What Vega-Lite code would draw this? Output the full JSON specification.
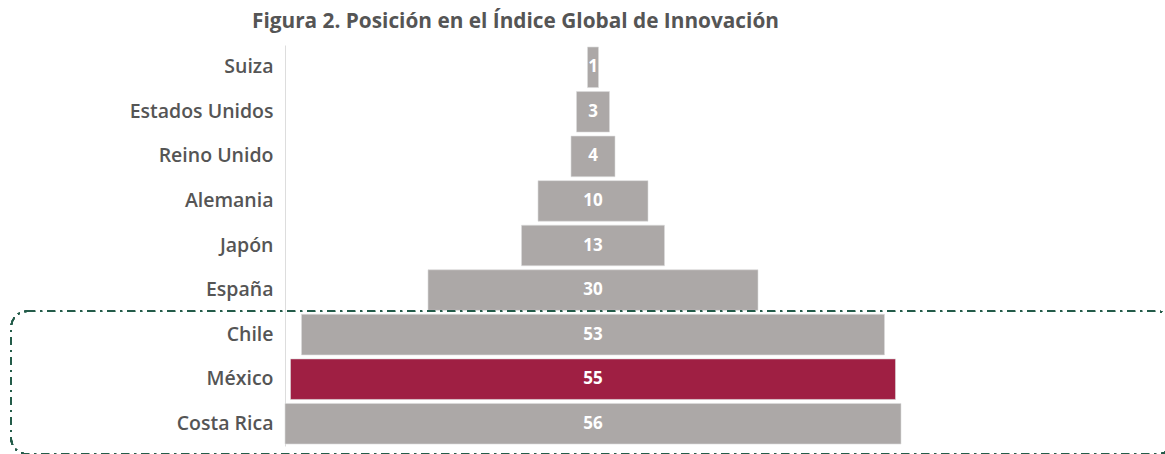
{
  "$schema": "https://vega.github.io/schema/vega-lite/v6.json",
  "width": 616,
  "height": 401,
  "autosize": {"type": "none"},
  "padding": {"left": 285, "top": 45, "right": 264, "bottom": 8},
  "background": "white",
  "config": {"view": {"stroke": null}, "font": "Open Sans"},
  "title": {
    "text": "Figura 2. Posición en el Índice Global de Innovación",
    "anchor": "start",
    "frame": "group",
    "dx": -33,
    "offset": 12,
    "fontSize": 20.8,
    "fontWeight": "bold",
    "color": "#555555",
    "font": "Open Sans"
  },
  "data": {
    "values": [
      {"pais": "Suiza", "posicion": 1, "grupo": "otro"},
      {"pais": "Estados Unidos", "posicion": 3, "grupo": "otro"},
      {"pais": "Reino Unido", "posicion": 4, "grupo": "otro"},
      {"pais": "Alemania", "posicion": 10, "grupo": "otro"},
      {"pais": "Japón", "posicion": 13, "grupo": "otro"},
      {"pais": "España", "posicion": 30, "grupo": "otro"},
      {"pais": "Chile", "posicion": 53, "grupo": "otro"},
      {"pais": "México", "posicion": 55, "grupo": "mexico"},
      {"pais": "Costa Rica", "posicion": 56, "grupo": "otro"}
    ]
  },
  "encoding": {
    "y": {
      "field": "pais",
      "type": "nominal",
      "sort": null,
      "scale": {"paddingInner": 0.09, "paddingOuter": 0.045},
      "axis": {
        "title": null,
        "ticks": false,
        "labelPadding": 12,
        "labelFontSize": 19.5,
        "labelFontWeight": 600,
        "labelColor": "#555555",
        "labelFont": "Open Sans",
        "domainColor": "#dddddd",
        "domainWidth": 1
      }
    }
  },
  "layer": [
    {
      "mark": {"type": "bar", "stroke": "#dcdcdc", "strokeWidth": 0.6},
      "encoding": {
        "x": {
          "field": "posicion",
          "type": "quantitative",
          "stack": "center",
          "scale": {"domain": [0, 56], "nice": false, "zero": false},
          "axis": null
        },
        "color": {
          "field": "grupo",
          "type": "nominal",
          "scale": {"domain": ["otro", "mexico"], "range": ["#aca8a7", "#9f1f43"]},
          "legend": null
        }
      }
    },
    {
      "mark": {"type": "text", "color": "white", "fontWeight": "bold", "fontSize": 17, "font": "Open Sans", "baseline": "middle"},
      "encoding": {
        "x": {"datum": 28, "type": "quantitative"},
        "text": {"field": "posicion", "type": "quantitative"}
      }
    },
    {
      "mark": {
        "type": "rect",
        "fill": null,
        "filled": false,
        "stroke": "#245c4a",
        "strokeWidth": 1.5,
        "strokeDash": [8, 5, 2, 5],
        "cornerRadius": 16,
        "clip": false,
        "yOffset": -3,
        "y2Offset": 10
      },
      "encoding": {
        "x": {"datum": -24.9, "type": "quantitative"},
        "x2": {"datum": 80.8},
        "y": {"datum": "Chile", "type": "nominal", "bandPosition": 0},
        "y2": {"datum": "Costa Rica", "bandPosition": 1}
      }
    }
  ]
}
